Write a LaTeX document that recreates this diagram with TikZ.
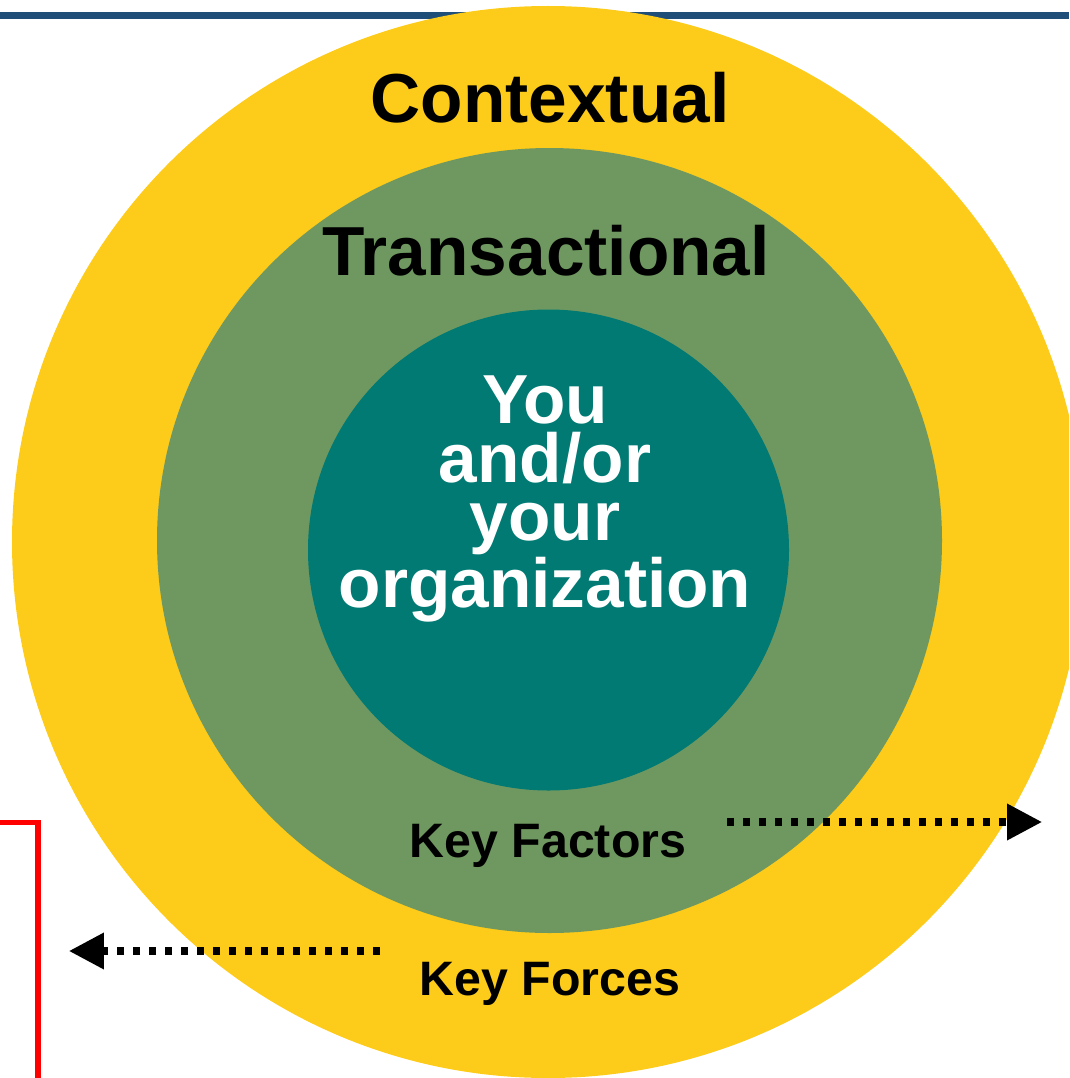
\documentclass[tikz,border=0pt]{standalone}
\usepackage{fontspec}
\setmainfont{Liberation Sans}
\usetikzlibrary{arrows.meta}
\definecolor{ctxyellow}{HTML}{FDCB19}
\definecolor{trgreen}{HTML}{6F9860}
\definecolor{youteal}{HTML}{007A73}
\definecolor{topblue}{HTML}{1F4E79}
\tikzset{
  bigtitle/.style={font=\fontsize{39.5pt}{33.2pt}\selectfont\bfseries, inner sep=0pt, anchor=base},
  keylabel/.style={font=\fontsize{27.5pt}{27.5pt}\selectfont\bfseries, inner sep=0pt, anchor=base},
  dotarrow/.style={line width=4pt, dash pattern=on 3.98pt off 5.12pt,
    -{Triangle[length=19.9pt,width=19.9pt]}},
  redframe/.style={draw=red, line width=2.85pt},
}
\begin{document}
\begin{tikzpicture}[x=0.02cm,y=0.02cm]
\useasboundingbox (0,0) rectangle (1069,-1078);
\clip (0,0) rectangle (1069,-1078);
% top rule
\coordinate (ruleL) at (0,-15.5);
\coordinate (ruleR) at (1069,-15.5);
\draw[topblue, line width=3.6pt] (ruleL) -- (ruleR);
% rings
\fill[ctxyellow] (548,-542) circle (536);
\fill[trgreen] (549.5,-540.5) circle (392.5);
\fill[youteal] (548.5,-550) circle (240.5);
% titles
\node[bigtitle] (ctx) at (550,-122) {Contextual};
\node[bigtitle] (trn) at (546,-275) {Transactional};
\node[bigtitle, text=white, align=center] (you) at (545,-607)
  {You\\and/or\\your\\organization};
\node[keylabel] (kfac) at (548,-857) {Key Factors};
\node[keylabel] (kfor) at (550,-995) {Key Forces};
% arrows
\coordinate (facS) at (727,-822);
\coordinate (facE) at (1042,-822);
\draw[dotarrow] (facS) -- (facE);
\coordinate (forS) at (380,-951);
\coordinate (forE) at (69,-951);
\draw[dotarrow] (forS) -- (forE);
% red frame
\coordinate (redA) at (0,-822.5);
\coordinate (redB) at (38,-822.5);
\coordinate (redC) at (38,-1078);
\draw[redframe] (redA) -- (redB) -- (redC);
\end{tikzpicture}
\end{document}
